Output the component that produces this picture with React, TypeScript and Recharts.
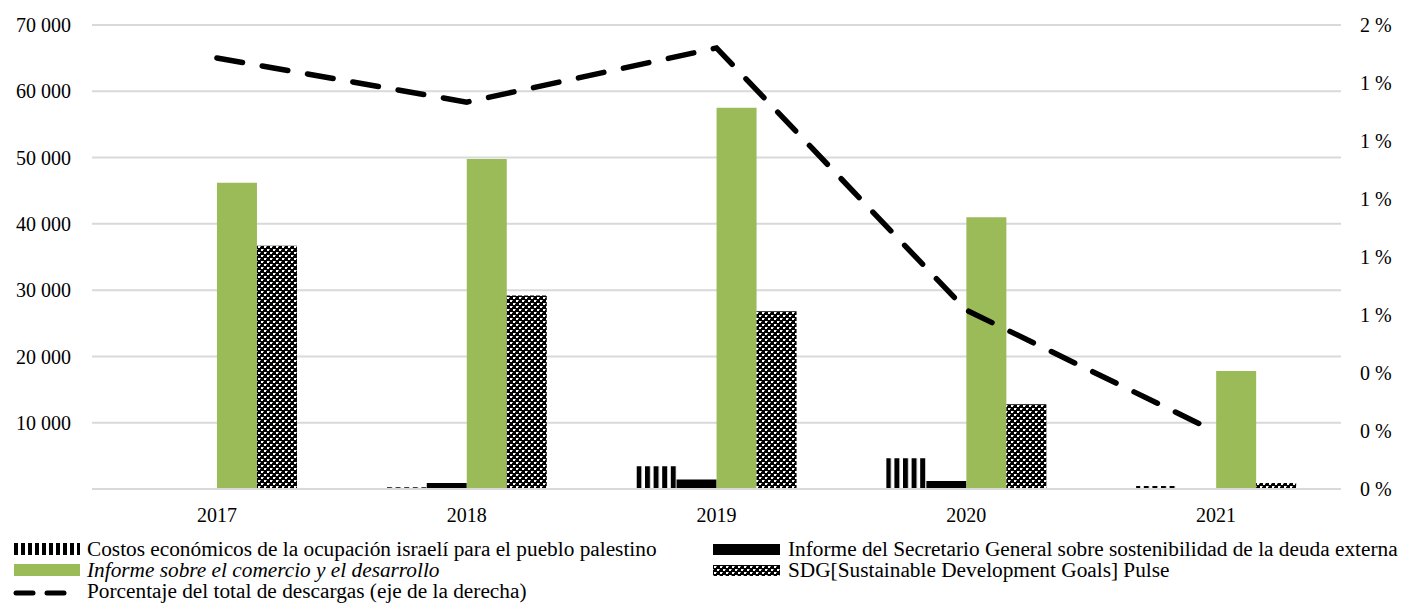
import React from 'react';
import { ComposedChart, Bar, Line, XAxis, YAxis, CartesianGrid } from 'recharts';

const years = ['2017', '2018', '2019', '2020', '2021'];
const costos = [0, 250, 3450, 4650, 450];
const informeSG = [0, 900, 1450, 1200, 0];
const comercio = [46200, 49800, 57500, 41000, 17800];
const sdgPulse = [36700, 29200, 26800, 12800, 900];
const porcentaje = [1.486, 1.334, 1.521, 0.617, 0.197];
const leftTicks = [0, 10000, 20000, 30000, 40000, 50000, 60000, 70000];
const rightTicks = [0, 0.2, 0.4, 0.6, 0.8, 1.0, 1.2, 1.4, 1.6];

const labels = {
  costos: 'Costos económicos de la ocupación israelí para el pueblo palestino',
  informeSG: 'Informe del Secretario General sobre sostenibilidad de la deuda externa',
  comercio: 'Informe sobre el comercio y el desarrollo',
  sdg: 'SDG[Sustainable Development Goals] Pulse',
  pct: 'Porcentaje del total de descargas (eje de la derecha)',
};

const data = years.map((y, i) => ({
  year: y,
  costos: costos[i],
  informeSG: informeSG[i],
  comercio: comercio[i],
  sdg: sdgPulse[i],
  pct: porcentaje[i],
}));

const FONT = '"Liberation Serif", "Times New Roman", serif';
const GREEN = '#9BBB59';
const GRID = '#D9D9D9';

const fmtThousands = (v: number) =>
  v === 0 ? '' : String(v).replace(/\B(?=(\d{3})+(?!\d))/g, ' ');
const fmtPct = (v: number) => `${Math.round(v)} %`;

function Patterns({ prefix }: { prefix: string }) {
  return (
    <defs>
      <pattern id={`${prefix}stripes`} patternUnits="userSpaceOnUse" width="8.6" height="10">
        <rect x="0" y="0" width="8.6" height="10" fill="#fff" />
        <rect x="0" y="0" width="5" height="10" fill="#000" />
      </pattern>
      <pattern id={`${prefix}stripesThin`} patternUnits="userSpaceOnUse" width="7" height="10">
        <rect x="0" y="0" width="7" height="10" fill="#fff" />
        <rect x="0" y="0" width="4" height="10" fill="#000" />
      </pattern>
      <pattern id={`${prefix}checks`} patternUnits="userSpaceOnUse" width="6" height="6">
        <rect x="0" y="0" width="6" height="6" fill="#000" />
        <rect x="0" y="0" width="2" height="2" fill="#fff" />
        <rect x="3" y="3" width="2" height="2" fill="#fff" />
        <rect x="2" y="0" width="1" height="1" fill="#999" />
        <rect x="5" y="3" width="1" height="1" fill="#999" />
      </pattern>
    </defs>
  );
}

function Legend() {
  const textStyle = { fontFamily: FONT, fontSize: 21.3, fill: '#000' } as const;
  return (
    <svg width={1402} height={73} style={{ position: 'absolute', left: 0, top: 530 }}>
      <Patterns prefix="lg-" />
      {/* row 1 left */}
      <rect x={14} y={13} width={66} height={12} fill="url(#lg-stripesThin)" />
      <text x={87} y={26} style={textStyle}>{labels.costos}</text>
      {/* row 1 right */}
      <rect x={713} y={14} width={67} height={11} fill="#000" />
      <text x={788} y={26} style={textStyle}>{labels.informeSG}</text>
      {/* row 2 left */}
      <rect x={14} y={34} width={66} height={12} fill={GREEN} />
      <text x={87} y={47} style={{ ...textStyle, fontStyle: 'italic' }}>{labels.comercio}</text>
      {/* row 2 right */}
      <rect x={713} y={35} width={67} height={11} fill="url(#lg-checks)" />
      <text x={788} y={47} style={textStyle}>{labels.sdg}</text>
      {/* row 3 left */}
      <line x1={16} y1={63} x2={33} y2={63} stroke="#000" strokeWidth={5} strokeLinecap="round" />
      <line x1={47} y1={63} x2={64} y2={63} stroke="#000" strokeWidth={5} strokeLinecap="round" />
      <text x={87} y={68} style={textStyle}>{labels.pct}</text>
    </svg>
  );
}

export default function App() {
  const tickStyle = { fontFamily: FONT, fontSize: 20, fill: '#000' };
  return (
    <div style={{ position: 'absolute', left: 0, top: 0, width: 1402, height: 603, background: '#fff' }}>
      <ComposedChart
        width={1402}
        height={530}
        data={data}
        margin={{ top: 25, right: 0, bottom: 0, left: 0 }}
        barCategoryGap="18%"
        barGap={0}
      >
        <Patterns prefix="ch-" />
        <CartesianGrid yAxisId="left" vertical={false} stroke={GRID} strokeWidth={2} />
        <XAxis
          dataKey="year"
          tickLine={false}
          tickSize={0}
          tickMargin={19}
          height={41}
          axisLine={{ stroke: GRID, strokeWidth: 2 }}
          tick={tickStyle}
        />
        <YAxis
          yAxisId="left"
          orientation="left"
          width={92}
          domain={[0, 70000]}
          ticks={leftTicks}
          tickFormatter={fmtThousands}
          axisLine={false}
          tickLine={false}
          tickSize={0}
          tickMargin={21}
          tick={tickStyle}
        />
        <YAxis
          yAxisId="right"
          orientation="right"
          width={61}
          domain={[0, 1.6]}
          ticks={rightTicks}
          tickFormatter={fmtPct}
          axisLine={false}
          tickLine={false}
          tickSize={0}
          tickMargin={19}
          tick={tickStyle}
        />
        <Bar yAxisId="left" dataKey="costos" name={labels.costos} fill="url(#ch-stripes)" isAnimationActive={false} />
        <Bar yAxisId="left" dataKey="informeSG" name={labels.informeSG} fill="#000" isAnimationActive={false} />
        <Bar yAxisId="left" dataKey="comercio" name={labels.comercio} fill={GREEN} isAnimationActive={false} />
        <Bar yAxisId="left" dataKey="sdg" name={labels.sdg} fill="url(#ch-checks)" isAnimationActive={false} />
        <Line
          yAxisId="right"
          type="linear"
          dataKey="pct"
          name={labels.pct}
          stroke="#000"
          strokeWidth={5.5}
          strokeDasharray="26 20"
          strokeLinecap="round"
          dot={false}
          activeDot={false}
          isAnimationActive={false}
        />
      </ComposedChart>
      <Legend />
    </div>
  );
}
